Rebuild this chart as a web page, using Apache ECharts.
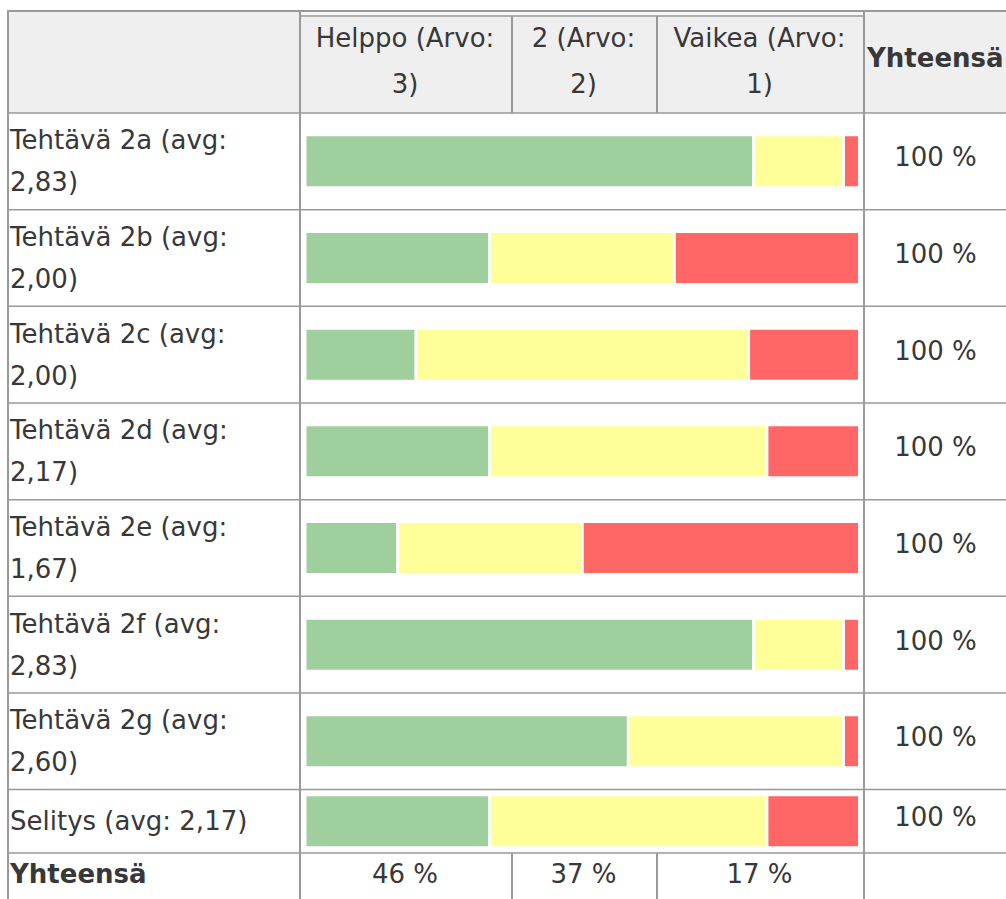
<!DOCTYPE html>
<html>
<head>
<meta charset="utf-8">
<script src="https://cdn.jsdelivr.net/npm/echarts@6/dist/echarts.min.js"></script>
<style>
html, body { margin: 0; padding: 0; background: #fff; }
#chart { width: 1006px; height: 899px; }
</style>
</head>
<body>
<div id="chart"></div>
<script>
// rows of the table (text as it wraps in the picture)
var rowLabels = [
    'Tehtävä 2a (avg:\n2,83)',
    'Tehtävä 2b (avg:\n2,00)',
    'Tehtävä 2c (avg:\n2,00)',
    'Tehtävä 2d (avg:\n2,17)',
    'Tehtävä 2e (avg:\n1,67)',
    'Tehtävä 2f (avg:\n2,83)',
    'Tehtävä 2g (avg:\n2,60)',
    'Selitys (avg: 2,17)'
];
var columnNames = ['Helppo (Arvo:\n3)', '2 (Arvo:\n2)', 'Vaikea (Arvo:\n1)'];
var totalTitle = 'Yhteensä';

// shares of each bar, % of bar length as drawn
var helppo = [80.9, 33.3, 20.0, 33.3, 16.7, 80.9, 58.3, 33.3];
var keski  = [16.2, 33.3, 60.0, 50.0, 33.3, 16.2, 38.8, 50.0];
var vaikea = [2.9, 33.4, 20.0, 16.7, 50.0, 2.9, 2.9, 16.7];

var rowTotals = ['100 %', '100 %', '100 %', '100 %', '100 %', '100 %', '100 %', '100 %'];
var columnTotals = ['46 %', '37 %', '17 %'];

var colors = ['#9fcf9d', '#ffff99', '#ff6666'];
var font = 'DejaVu Sans, Verdana, sans-serif';
var textColor = '#383838';
var lineColor = '#999';

// table layout
var tableLeft = 7, tableTop = 11, tableRight = 1006;
var headTop = 16, headBottom = 113;
var rowH = 96.66;
var lastRowH = 63.4;
var colX = [300, 512, 657, 864];
var barLeft = 305, barRight = 859.5;

var rowTops = [];
for (var i = 0; i <= 7; i++) rowTops.push(headBottom + i * rowH);
var lastBottom = rowTops[7] + lastRowH;
rowTops.push(lastBottom);

var myChart = echarts.init(document.getElementById('chart'), null, { renderer: 'svg' });

function makeSeries(gi, from, to) {
    return [helppo, keski, vaikea].map(function (arr, i) {
        return {
            type: 'bar',
            xAxisIndex: gi,
            yAxisIndex: gi,
            stack: 'row' + gi,
            data: arr.slice(from, to),
            barWidth: 53,
            silent: true,
            itemStyle: { color: colors[i], borderColor: '#fff', borderWidth: 1.5 }
        };
    });
}

function yAxis(gi, data) {
    return {
        type: 'category',
        gridIndex: gi,
        inverse: true,
        data: data,
        axisLine: { show: false },
        axisTick: { show: false },
        splitLine: { show: false },
        axisLabel: {
            align: 'left',
            margin: barLeft - 10,
            fontFamily: font,
            fontSize: 26,
            lineHeight: 42,
            color: textColor
        }
    };
}

function xAxis(gi) {
    return { type: 'value', gridIndex: gi, min: 0, max: 100, show: false };
}

var g = [];
// header background
g.push({ type: 'rect', shape: { x: tableLeft, y: tableTop, width: tableRight - tableLeft, height: headBottom - tableTop }, style: { fill: '#efefef' }, z: 0 });
g.push({ type: 'rect', shape: { x: colX[0], y: tableTop, width: colX[3] - colX[0], height: headTop - tableTop }, style: { fill: '#f8f8f8' }, z: 0 });

function hline(y, x1, x2, w) {
    g.push({ type: 'line', shape: { x1: x1, y1: y, x2: x2, y2: y }, style: { stroke: lineColor, lineWidth: w || 1.5 }, z: 1 });
}
function vline(x, y1, y2, w) {
    g.push({ type: 'line', shape: { x1: x, y1: y1, x2: x, y2: y2 }, style: { stroke: lineColor, lineWidth: w || 2 }, z: 1 });
}

hline(tableTop, tableLeft, tableRight, 2);
hline(headTop, colX[0], colX[3]);
rowTops.forEach(function (y) { hline(y, tableLeft, tableRight); });
vline(tableLeft + 1, tableTop, 899);
vline(colX[0], tableTop, 899);
vline(colX[3], tableTop, 899);
vline(colX[1], headTop, headBottom);
vline(colX[2], headTop, headBottom);
vline(colX[1], lastBottom, 899);
vline(colX[2], lastBottom, 899);

function txt(s, x, y, opts) {
    opts = opts || {};
    g.push({
        type: 'text', z: 2,
        style: {
            text: s, x: x, y: y,
            fill: textColor,
            fontFamily: font,
            fontSize: 26,
            fontWeight: opts.bold ? 'bold' : 'normal',
            align: opts.align || 'center',
            verticalAlign: 'middle',
            lineHeight: opts.lineHeight || 42
        }
    });
}

// header
columnNames.forEach(function (s, i) {
    txt(s, (colX[i] + colX[i + 1]) / 2 - 1, 61, { lineHeight: 46 });
});
txt(totalTitle, 867, 58, { bold: true, align: 'left' });

// row totals
rowTotals.forEach(function (s, i) {
    txt(s, 935.5, (rowTops[i] + rowTops[i + 1]) / 2 - 4);
});

// bottom totals row
var totY = (lastBottom + 899) / 2 - 2;
txt(totalTitle, 10, totY, { bold: true, align: 'left' });
columnTotals.forEach(function (s, i) {
    txt(s, (colX[i] + colX[i + 1]) / 2 - 1, totY);
});

var option = {
    animation: false,
    grid: [
        { left: barLeft, width: barRight - barLeft, top: rowTops[0], height: rowTops[7] - rowTops[0] },
        { left: barLeft, width: barRight - barLeft, top: rowTops[7], height: lastRowH }
    ],
    xAxis: [xAxis(0), xAxis(1)],
    yAxis: [yAxis(0, rowLabels.slice(0, 7)), yAxis(1, rowLabels.slice(7))],
    series: makeSeries(0, 0, 7).concat(makeSeries(1, 7, 8)),
    graphic: g
};

myChart.setOption(option);
</script>
</body>
</html>
